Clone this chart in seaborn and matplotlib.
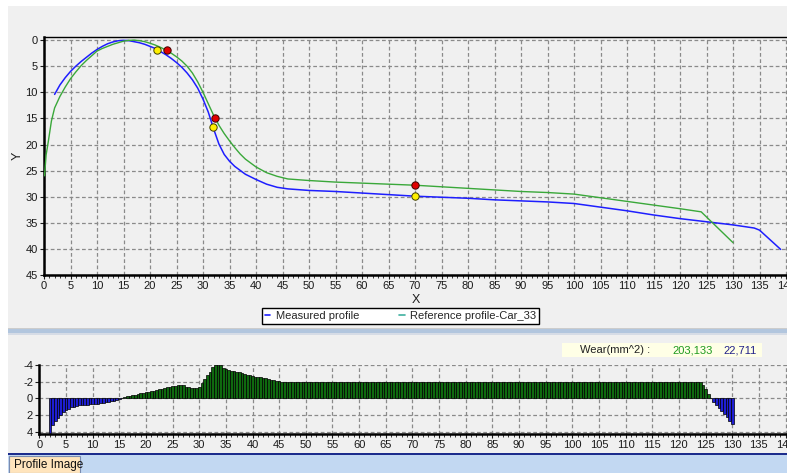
import numpy as np
import pandas as pd
import matplotlib
matplotlib.use("Agg")
import matplotlib.pyplot as plt
from matplotlib.patches import Rectangle
from matplotlib.lines import Line2D
import seaborn as sns

sns.set_style("white")
plt.rcParams['font.family'] = ['Liberation Sans', 'DejaVu Sans']

# ---------------- data ----------------
meas_x = [2, 3, 4, 5, 6, 7, 8, 9, 10, 11, 12, 13, 14, 15, 16, 17, 18, 19, 20, 21, 22, 23, 24, 25,
          26, 27, 28, 29, 30, 31, 32, 33, 34, 35, 36, 38, 40, 42, 44, 46, 50, 55, 60, 65, 70, 75,
          80, 85, 90, 95, 100, 105, 110, 115, 120, 125, 130, 134, 135, 139]
meas_y = [10.4, 8.6, 7.2, 6.0, 5.0, 4.1, 3.3, 2.5, 1.8, 1.2, 0.7, 0.35, 0.12, 0.05, 0.1, 0.3, 0.5,
          0.8, 1.2, 1.6, 2.2, 2.8, 3.5, 4.3, 5.2, 6.3, 7.6, 9.2, 11.3, 13.8, 17.0, 19.9, 21.9, 23.2,
          24.2, 25.7, 26.7, 27.6, 28.2, 28.5, 28.8, 29.0, 29.3, 29.6, 29.9, 30.1, 30.3, 30.6, 30.8,
          31.0, 31.3, 32.0, 32.7, 33.5, 34.2, 34.8, 35.4, 36.0, 36.4, 40.1]

ref_x = [0.1, 0.4, 0.8, 1.4, 2, 3, 4, 5, 6, 7, 8, 9, 10, 11, 12, 13, 14, 15, 16, 17, 18, 19, 20, 21,
         22, 23, 24, 25, 26, 27, 28, 29, 30, 31, 32, 33, 34, 35, 36, 37, 38, 40, 42, 44, 46, 50, 55,
         60, 65, 70, 75, 80, 85, 90, 95, 100, 105, 110, 115, 120, 124, 130]
ref_y = [26.0, 22.0, 19.5, 15.5, 13.0, 10.8, 9.0, 7.4, 6.1, 4.9, 3.9, 3.0, 2.1, 1.6, 1.2, 0.8, 0.5,
         0.2, 0.05, 0.0, 0.1, 0.3, 0.6, 0.95, 1.4, 1.9, 2.5, 3.2, 4.0, 5.0, 6.3, 8.0, 10.0, 12.2, 14.4,
         16.3, 17.9, 19.3, 20.6, 21.8, 22.8, 24.3, 25.4, 26.1, 26.6, 26.9, 27.2, 27.4, 27.6, 27.8,
         28.1, 28.4, 28.7, 29.0, 29.2, 29.5, 30.2, 30.9, 31.6, 32.3, 32.9, 38.8]

yellow_x = [21.4, 31.8, 70]
yellow_y = [1.9, 16.7, 29.8]
red_x = [23.2, 32.3, 70]
red_y = [1.9, 15.0, 27.8]

# wear difference, one bar every 0.5 from x = 2 to x = 130
diff_v = [
    4.2, 3.2, 2.75, 2.35, 2.0, 1.7, 1.45, 1.25, 1.1, 1.0,              # 2.0 - 6.5
    0.9, 0.85, 0.82, 0.8, 0.78, 0.75, 0.72, 0.68, 0.64, 0.6,           # 7.0 - 11.5
    0.55, 0.5, 0.45, 0.38, 0.28, 0.15, 0.05, -0.05, -0.15, -0.22,      # 12.0 - 16.5
    -0.3, -0.38, -0.45, -0.52, -0.6, -0.65, -0.7, -0.78, -0.85, -0.92,  # 17.0 - 21.5
    -1.0, -1.08, -1.15, -1.22, -1.3, -1.38, -1.45, -1.5, -1.55, -1.6,  # 22.0 - 26.5
    -1.55, -1.4, -1.3, -1.25, -1.22, -1.25, -1.35, -1.8, -2.3, -2.75,  # 27.0 - 31.5
    -3.2, -3.7, -4.0, -4.05, -3.95, -3.65, -3.5, -3.4, -3.3, -3.25,    # 32.0 - 36.5
    -3.2, -3.1, -3.0, -2.92, -2.85, -2.75, -2.65, -2.6, -2.55, -2.5,   # 37.0 - 41.5
    -2.45, -2.38, -2.3, -2.22, -2.15, -2.1, -2.05, -2.0,               # 42.0 - 45.5
    -1.95, -1.95, -1.95, -1.95, -1.95, -1.95, -1.95, -1.95, -1.95, -1.95,  # 46.0 - 50.5
    -1.95, -1.95, -1.9, -1.9, -1.9, -1.9, -1.95, -1.95, -1.95, -1.95,      # 51.0 - 55.5
    -1.95, -1.95, -1.95, -1.95, -1.95, -1.95, -1.95, -1.95, -1.95, -1.95,  # 56.0 - 60.5
    -1.95, -1.95, -1.95, -1.95, -1.95, -1.95, -1.95, -1.95, -1.95, -1.95,  # 61.0 - 65.5
    -1.95, -1.95, -1.95, -1.95, -1.95, -1.95, -1.95, -1.95, -1.95, -1.95,  # 66.0 - 70.5
    -1.95, -1.95, -1.95, -1.95, -1.95, -1.95, -1.95, -1.95, -1.95, -1.95,  # 71.0 - 75.5
    -1.95, -1.95, -1.95, -1.95, -1.95, -1.95, -1.95, -1.95, -1.95, -1.95,  # 76.0 - 80.5
    -1.95, -1.95, -1.95, -1.95, -1.95, -1.95, -1.95, -1.95, -1.95, -1.95,  # 81.0 - 85.5
    -1.95, -1.95, -1.95, -1.95, -1.95, -1.95, -1.95, -1.95, -1.95, -2.0,   # 86.0 - 90.5
    -2.0, -2.0, -2.0, -2.0, -2.0, -2.0, -2.0, -2.0, -2.0, -2.0,            # 91.0 - 95.5
    -2.0, -2.0, -2.0, -1.95, -1.95, -1.95, -1.95, -1.95, -2.0, -2.0,       # 96.0 - 100.5
    -2.0, -2.0, -1.95, -1.95, -1.95, -1.95, -1.95, -1.95, -1.95, -1.95,    # 101.0 - 105.5
    -1.95, -1.95, -1.95, -1.95, -1.95, -1.95, -1.95, -2.0, -2.0, -1.95,    # 106.0 - 110.5
    -1.95, -1.95, -1.95, -1.95, -1.95, -1.95, -1.95, -1.95, -1.95, -1.95,  # 111.0 - 115.5
    -1.95, -1.95, -1.95, -1.95, -1.95, -1.95, -1.95, -1.95, -1.95, -1.95,  # 116.0 - 120.5
    -1.95, -1.95, -1.95, -1.95, -1.95, -1.95, -1.95,                       # 121.0 - 124.0
    -1.6, -1.1, -0.55, 0.0, 0.4, 0.8, 1.15, 1.5, 1.9, 2.3, 2.7, 3.1,       # 124.5 - 130.0
]
diff_x = np.arange(2, 130.25, 0.5)[:len(diff_v)]

x_ticks = list(range(0, 145, 5))
y_ticks_top = list(range(0, 50, 5))
y_ticks_bot = [-4, -2, 0, 2, 4]

wear_label = "Wear(mm^2) :"
wear_values = ["203,133", "22,711"]
legend_labels = ["Measured profile", "Reference profile-Car_33"]

# ---------------- figure ----------------
W, H = 787, 473
fig = plt.figure(figsize=(W / 100, H / 100), dpi=100, facecolor="white")

def fx(px):
    return px / W

def fy(py):
    return 1 - py / H

# panel background
fig.patches.append(Rectangle((fx(8), fy(453)), fx(787) - fx(8), fy(6) - fy(453),
                             transform=fig.transFigure, facecolor="#F0F0F0", edgecolor="none", zorder=-10))
# splitter band
fig.patches.append(Rectangle((fx(8), fy(329)), 1, fy(327.5) - fy(329), transform=fig.transFigure,
                             facecolor="#CCCCCC", edgecolor="none", zorder=-5))
fig.patches.append(Rectangle((fx(8), fy(333)), 1, fy(329) - fy(333), transform=fig.transFigure,
                             facecolor="#B2C6DE", edgecolor="none", zorder=-5))
fig.patches.append(Rectangle((fx(8), fy(335)), 1, fy(333) - fy(335), transform=fig.transFigure,
                             facecolor="#D6DCE6", edgecolor="none", zorder=-5))
# tab strip
fig.patches.append(Rectangle((fx(8), 0), 1, fy(454), transform=fig.transFigure,
                             facecolor="#C2D8F2", edgecolor="none", zorder=-5))
fig.patches.append(Rectangle((fx(8), fy(455)), 1, fy(453) - fy(455), transform=fig.transFigure,
                             facecolor="#1C2C8C", edgecolor="none", zorder=-4))
fig.patches.append(Rectangle((fx(9), 0), fx(80) - fx(9), fy(456), transform=fig.transFigure,
                             facecolor="#FFE4BC", edgecolor="#7A8CB0", linewidth=0.8, zorder=-3))
fig.text(fx(14), fy(465), "Profile Image", fontsize=8.5, va="center", ha="left", color="#101010")

# wear box
fig.patches.append(Rectangle((fx(562), fy(357)), fx(762) - fx(562), fy(343) - fy(357),
                             transform=fig.transFigure, facecolor="#FFFFE6", edgecolor="none", zorder=-3))
fig.text(fx(580), fy(350), wear_label, fontsize=8, va="center", ha="left", color="#202020")
fig.text(fx(672), fy(350), wear_values[0], fontsize=8, va="center", ha="left", color="#1E9A1E")
fig.text(fx(723), fy(350), wear_values[1], fontsize=8, va="center", ha="left", color="#22228A")

# ---------------- top axes ----------------
ax1 = fig.add_axes([fx(44), fy(275), fx(787) - fx(44), fy(37.5) - fy(275)])
ax1.set_facecolor("#F0F0F0")
meas_df = pd.DataFrame({"x": meas_x, "y": meas_y})
ref_df = pd.DataFrame({"x": ref_x, "y": ref_y})
sns.lineplot(data=meas_df, x="x", y="y", sort=False, color="#1E1EFF", linewidth=1.1, ax=ax1, zorder=3)
sns.lineplot(data=ref_df, x="x", y="y", sort=False, color="#3AA83A", linewidth=1.0, ax=ax1, zorder=3)
sns.scatterplot(x=yellow_x, y=yellow_y, color="#FFF000", edgecolor="#404000", s=28, linewidth=0.7,
                ax=ax1, zorder=5)
sns.scatterplot(x=red_x, y=red_y, color="#E00000", edgecolor="#400000", s=28, linewidth=0.7,
                ax=ax1, zorder=5)
ax1.set_xlim(0, (787 - 44) / 5.3)
ax1.set_ylim(45, -0.5)
ax1.set_xticks(x_ticks)
ax1.set_xticklabels([str(t) for t in x_ticks])
ax1.set_xticks(np.arange(0, 141, 1), minor=True)
ax1.set_yticks(y_ticks_top)
ax1.set_yticklabels([str(t) for t in y_ticks_top])
ax1.grid(True, which="major", linestyle=(0, (3, 2)), color="#8A8A8A", linewidth=0.9)
ax1.tick_params(axis="both", which="major", labelsize=8, colors="#1A1A1A", length=3, width=0.8,
                direction="out", pad=1.5, bottom=True, left=True)
ax1.tick_params(axis="x", which="minor", length=2, width=0.6, bottom=True, color="#1A1A1A")
for s in ["left", "bottom"]:
    ax1.spines[s].set_linewidth(1.8)
    ax1.spines[s].set_color("black")
ax1.spines["top"].set_linewidth(1.0)
ax1.spines["top"].set_color("black")
ax1.spines["right"].set_visible(False)
ax1.set_xlabel("X", fontsize=9, labelpad=2, color="#202020")
ax1.set_ylabel("Y", fontsize=9, labelpad=1, color="#202020")

handles = [Line2D([0], [0], color="#2020FF", linewidth=1.2),
           Line2D([0], [0], color="#40B0A0", linewidth=1.2)]
leg = fig.legend(handles, legend_labels, loc="center",
                 bbox_to_anchor=(fx(400.5), fy(316)), ncol=2, fontsize=8, frameon=True,
                 fancybox=False, handlelength=0.5, handletextpad=0.5, columnspacing=3.6,
                 borderpad=0.25, borderaxespad=0)
leg.get_frame().set_edgecolor("black")
leg.get_frame().set_linewidth(1.0)
leg.get_frame().set_facecolor("white")
leg.get_frame().set_alpha(1)

# ---------------- bottom axes ----------------
ax2 = fig.add_axes([fx(39.3), fy(434), fx(787) - fx(39.3), fy(365) - fy(434)])
ax2.set_facecolor("#F0F0F0")
diff_df = pd.DataFrame({"x": diff_x, "v": diff_v})
diff_df["sign"] = np.where(diff_df["v"] > 0, "pos", "neg")
sns.barplot(data=diff_df, x="x", y="v", hue="sign", palette={"pos": "#0000F0", "neg": "#007800"},
            native_scale=True, dodge=False, errorbar=None, width=1.0, edgecolor="black",
            linewidth=0.5, legend=False, ax=ax2, zorder=3)
ax2.set_xlim(0, (787 - 39.3) / 5.33)
ax2.set_ylim(4.3, -4)
ax2.set_xticks(x_ticks)
ax2.set_xticklabels([str(t) for t in x_ticks])
ax2.set_xticks(np.arange(0, 141, 1), minor=True)
ax2.set_yticks(y_ticks_bot)
ax2.set_yticklabels([str(t) for t in y_ticks_bot])
ax2.grid(True, which="major", linestyle=(0, (3, 2)), color="#8A8A8A", linewidth=0.9)
ax2.set_axisbelow(True)
ax2.tick_params(axis="both", which="major", labelsize=8, colors="#1A1A1A", length=3, width=0.8,
                direction="out", pad=1.5, bottom=True, left=True)
ax2.tick_params(axis="x", which="minor", length=2, width=0.6, bottom=True, color="#1A1A1A")
for s in ["left", "bottom"]:
    ax2.spines[s].set_linewidth(1.8)
    ax2.spines[s].set_color("black")
ax2.spines["top"].set_visible(False)
ax2.spines["right"].set_visible(False)
ax2.set_xlabel("")
ax2.set_ylabel("")

fig.savefig("out.png", dpi=100, facecolor=fig.get_facecolor())
